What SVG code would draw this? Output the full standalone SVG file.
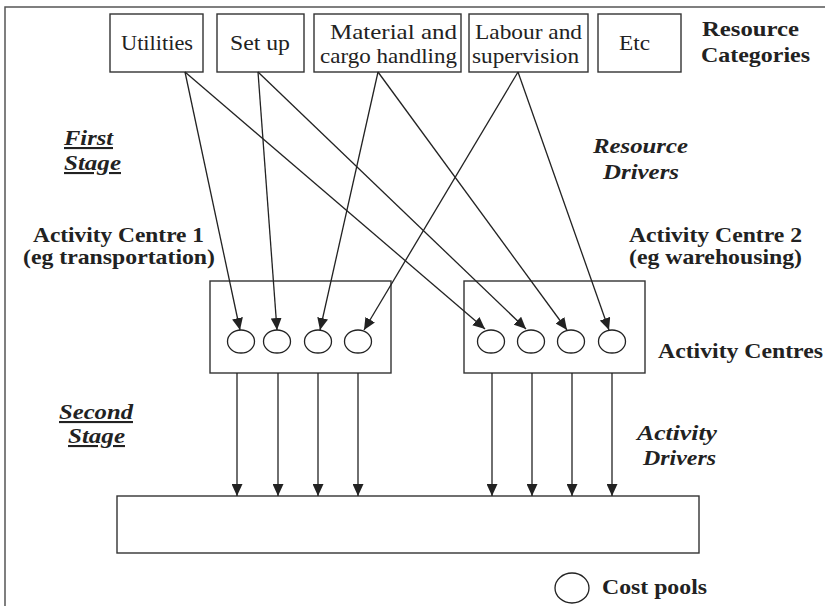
<svg xmlns="http://www.w3.org/2000/svg" width="825" height="606" viewBox="0 0 825 606">
  <defs>
    <marker id="arrow" markerUnits="userSpaceOnUse" markerWidth="12" markerHeight="11" refX="12" refY="5.5" orient="auto">
      <path d="M0,0 L12,5.5 L0,11 z" fill="#222"/>
    </marker>
    <style>
      .frame { fill: none; stroke: #555; stroke-width: 1.5; }
      .box { fill: #fff; stroke: #333; stroke-width: 1.4; }
      .pool { fill: #fff; stroke: #222; stroke-width: 1.3; }
      .conn { stroke: #222; stroke-width: 1.3; fill: none; marker-end: url(#arrow); }
      text { font-family: 'Liberation Serif', 'DejaVu Serif', 'Noto Serif', serif; font-size: 21px; fill: #222; }
      .bold { font-weight: bold; }
      .stage { font-weight: bold; font-style: italic; }
      .ul { text-decoration: underline; }
    </style>
  </defs>

  <rect width="825" height="606" fill="#fff"/>
  <rect class="frame" x="5" y="7" width="840" height="620"/>

  <!-- resource categories -->
  <g id="utilities">
    <rect class="box" x="110" y="14" width="93" height="58"/>
    <text x="121" y="50" textLength="72" lengthAdjust="spacingAndGlyphs">Utilities</text>
  </g>
  <g id="setup">
    <rect class="box" x="217" y="14" width="87" height="58"/>
    <text x="230" y="50" textLength="60" lengthAdjust="spacingAndGlyphs">Set up</text>
  </g>
  <g id="material">
    <rect class="box" x="314" y="14" width="147" height="58"/>
    <text x="330" y="39" textLength="127" lengthAdjust="spacingAndGlyphs">Material and</text>
    <text x="320" y="63" textLength="137" lengthAdjust="spacingAndGlyphs">cargo handling</text>
  </g>
  <g id="labour">
    <rect class="box" x="469" y="14" width="119" height="58"/>
    <text x="475" y="39" textLength="107" lengthAdjust="spacingAndGlyphs">Labour and</text>
    <text x="472" y="63" textLength="107" lengthAdjust="spacingAndGlyphs">supervision</text>
  </g>
  <g id="etc">
    <rect class="box" x="598" y="14" width="83" height="58"/>
    <text x="619" y="50" textLength="31" lengthAdjust="spacingAndGlyphs">Etc</text>
  </g>
  <g id="resource-categories">
    <text class="bold" x="702" y="36" textLength="97" lengthAdjust="spacingAndGlyphs">Resource</text>
    <text class="bold" x="701" y="62" textLength="109" lengthAdjust="spacingAndGlyphs">Categories</text>
  </g>

  <!-- side labels -->
  <g id="first-stage">
    <text class="stage ul" x="64" y="145" textLength="49" lengthAdjust="spacingAndGlyphs">First</text>
    <text class="stage ul" x="64" y="170" textLength="57" lengthAdjust="spacingAndGlyphs">Stage</text>
  </g>
  <g id="resource-drivers">
    <text class="stage" x="593" y="153" textLength="95" lengthAdjust="spacingAndGlyphs">Resource</text>
    <text class="stage" x="603" y="179" textLength="76" lengthAdjust="spacingAndGlyphs">Drivers</text>
  </g>
  <g id="ac1-label">
    <text class="bold" x="33" y="242" textLength="171" lengthAdjust="spacingAndGlyphs">Activity Centre 1</text>
    <text class="bold" x="23" y="264" textLength="192" lengthAdjust="spacingAndGlyphs">(eg transportation)</text>
  </g>
  <g id="ac2-label">
    <text class="bold" x="629" y="242" textLength="173" lengthAdjust="spacingAndGlyphs">Activity Centre 2</text>
    <text class="bold" x="629" y="264" textLength="173" lengthAdjust="spacingAndGlyphs">(eg warehousing)</text>
  </g>
  <g id="activity-centres-label">
    <text class="bold" x="658" y="358" textLength="165" lengthAdjust="spacingAndGlyphs">Activity Centres</text>
  </g>
  <g id="second-stage">
    <text class="stage ul" x="59" y="419" textLength="74" lengthAdjust="spacingAndGlyphs">Second</text>
    <text class="stage ul" x="68" y="443" textLength="57" lengthAdjust="spacingAndGlyphs">Stage</text>
  </g>
  <g id="activity-drivers">
    <text class="stage" x="637" y="440" textLength="80" lengthAdjust="spacingAndGlyphs">Activity</text>
    <text class="stage" x="643" y="465" textLength="73" lengthAdjust="spacingAndGlyphs">Drivers</text>
  </g>

  <!-- activity centres with cost pools -->
  <g id="activity-centre-1">
    <rect class="box" x="210" y="281" width="181" height="92"/>
    <ellipse class="pool" cx="241" cy="341.5" rx="13.5" ry="11.5"/>
    <ellipse class="pool" cx="277" cy="341.5" rx="13.5" ry="11.5"/>
    <ellipse class="pool" cx="318" cy="341.5" rx="13.5" ry="11.5"/>
    <ellipse class="pool" cx="358" cy="341.5" rx="13.5" ry="11.5"/>
  </g>
  <g id="activity-centre-2">
    <rect class="box" x="464" y="281" width="181" height="92"/>
    <ellipse class="pool" cx="491" cy="341.5" rx="13.5" ry="11.5"/>
    <ellipse class="pool" cx="531" cy="341.5" rx="13.5" ry="11.5"/>
    <ellipse class="pool" cx="571" cy="341.5" rx="13.5" ry="11.5"/>
    <ellipse class="pool" cx="612" cy="341.5" rx="13.5" ry="11.5"/>
  </g>

  <!-- cost objects -->
  <g id="cost-objects">
    <rect class="box" x="117" y="496" width="582" height="57"/>
  </g>

  <!-- legend -->
  <g id="legend">
    <ellipse class="pool" cx="572" cy="588" rx="17" ry="15"/>
    <text class="bold" x="602" y="594" textLength="105" lengthAdjust="spacingAndGlyphs">Cost pools</text>
  </g>

  <!-- connectors -->
  <g id="connectors">
    <line class="conn" x1="185" y1="72" x2="240" y2="330"/>
    <line class="conn" x1="258" y1="72" x2="277" y2="330"/>
    <line class="conn" x1="378" y1="72" x2="320" y2="330"/>
    <line class="conn" x1="518" y1="72" x2="364" y2="330"/>
    <line class="conn" x1="185" y1="72" x2="485" y2="329"/>
    <line class="conn" x1="258" y1="72" x2="526" y2="329"/>
    <line class="conn" x1="378" y1="72" x2="567" y2="330"/>
    <line class="conn" x1="518" y1="72" x2="609" y2="330"/>

    <line class="conn" x1="237" y1="373" x2="237" y2="496"/>
    <line class="conn" x1="278" y1="373" x2="278" y2="496"/>
    <line class="conn" x1="318" y1="373" x2="318" y2="496"/>
    <line class="conn" x1="358" y1="373" x2="358" y2="496"/>
    <line class="conn" x1="492" y1="373" x2="492" y2="496"/>
    <line class="conn" x1="532" y1="373" x2="532" y2="496"/>
    <line class="conn" x1="572" y1="373" x2="572" y2="496"/>
    <line class="conn" x1="612" y1="373" x2="612" y2="496"/>
  </g>
</svg>
